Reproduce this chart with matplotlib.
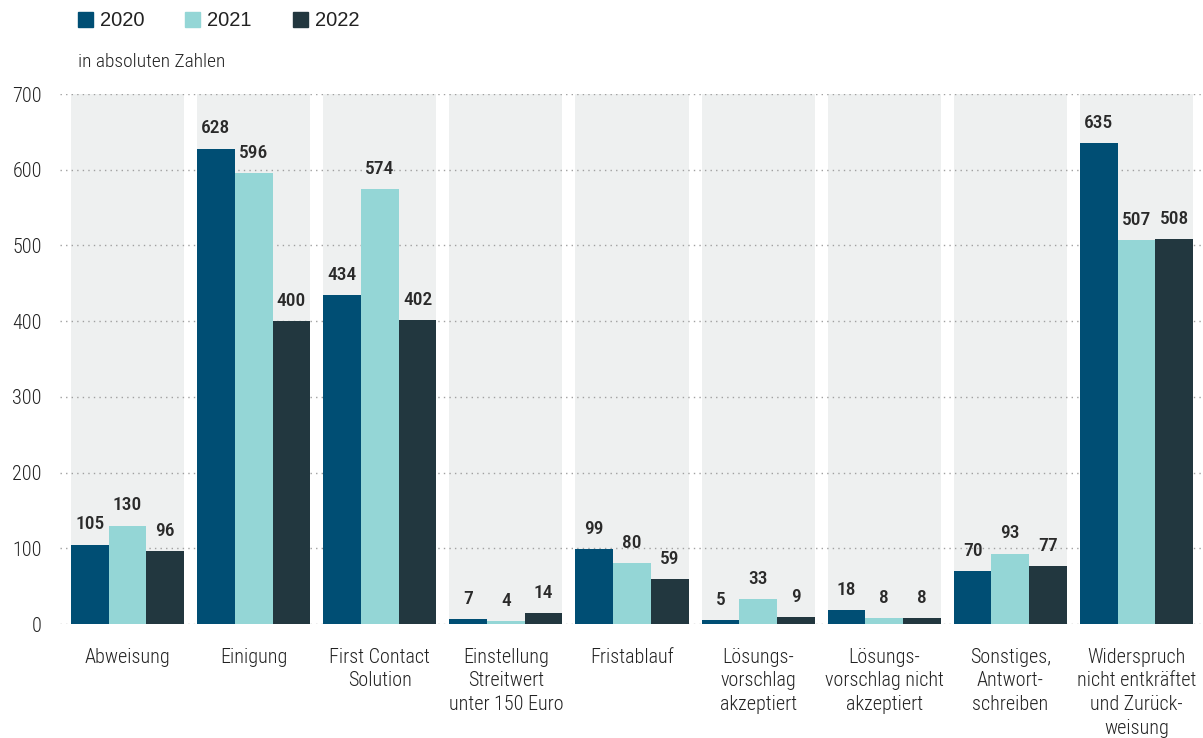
import matplotlib
matplotlib.use('Agg')
import matplotlib.pyplot as plt
from matplotlib.patches import Rectangle
import numpy as np

plt.rcParams.update({
    'font.family': ['Roboto Condensed', 'Barlow Semi Condensed', 'DejaVu Sans'],
    'font.size': 12,
})

categories = ['Abweisung', 'Einigung', 'First Contact\nSolution',
              'Einstellung\nStreitwert\nunter 150 Euro', 'Fristablauf',
              'Lösungs-\nvorschlag\nakzeptiert', 'Lösungs-\nvorschlag nicht\nakzeptiert',
              'Sonstiges,\nAntwort-\nschreiben',
              'Widerspruch\nnicht entkräftet\nund Zurück-\nweisung']
years = ['2020', '2021', '2022']
v2020 = [105, 628, 434, 7, 99, 5, 18, 70, 635]
v2021 = [130, 596, 574, 4, 80, 33, 8, 93, 507]
v2022 = [96, 400, 402, 14, 59, 9, 8, 77, 508]
colors = ['#004e74', '#94d6d6', '#22373f']

fig = plt.figure(figsize=(12.03, 7.38), dpi=100)
ax = fig.add_axes([60/1203, 1-624/738, 1-60/1203, 530/738])

x = np.arange(len(categories))
group_w = 0.897
bw = group_w / 3

# graue Hintergrundbänder
for xi in x:
    ax.add_patch(Rectangle((xi - group_w/2, 0), group_w, 700, color='#eef0f0', zorder=0, lw=0))

# gepunktete Gitterlinien
for yv in range(0, 701, 100):
    ax.axhline(yv, color='#a0a0a0', lw=1, ls=(0, (1, 3)), zorder=1)

for j, vals in enumerate([v2020, v2021, v2022]):
    pos = x - bw + j*bw
    ax.bar(pos, vals, width=bw, color=colors[j], zorder=2, lw=0)
    for p, v in zip(pos, vals):
        ax.annotate(str(v), (p, v), xytext=(0, 8), textcoords='offset points',
                    ha='center', va='bottom', fontsize=14, fontweight='medium', color='#2a2a2a')

ax.set_xlim(-0.536, 8.528)
ax.set_ylim(0, 700)
ax.set_yticks(range(0, 701, 100))
ax.set_yticklabels([str(v) for v in range(0, 701, 100)], fontsize=14.5,
                   fontweight='light', color='#222222')
ax.tick_params(axis='y', length=0, pad=13)
ax.set_xticks(x)
ax.set_xticklabels(categories, fontsize=14.5, fontweight='light', color='#222222',
                   linespacing=1.32, va='top')
ax.tick_params(axis='x', length=0, pad=17)
for s in ax.spines.values():
    s.set_visible(False)

# Legende
lx = [78, 185, 293]
for j, yr in enumerate(years):
    fig.patches.append(Rectangle((lx[j]/1203, 1-27/738), 15/1203, 15/738,
                                 transform=fig.transFigure, color=colors[j]))
    fig.text((lx[j]+22)/1203, 1-20/738, yr, fontsize=14.5, va='center', ha='left',
             family=['Liberation Sans', 'DejaVu Sans'], color='#222222')
fig.text(78/1203, 1-62/738, 'in absoluten Zahlen', fontsize=14, fontweight='light',
         va='center', ha='left', color='#222222')

fig.savefig('out.png', dpi=100)
